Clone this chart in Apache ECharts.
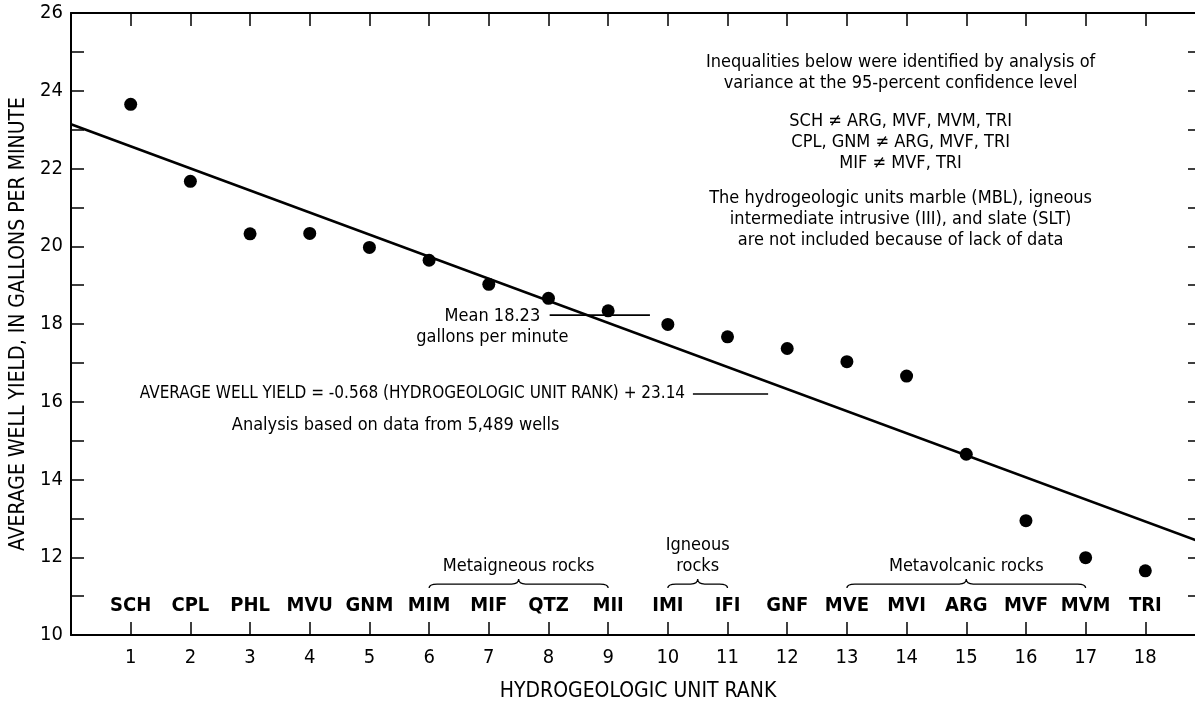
<!DOCTYPE html>
<html>
<head>
<meta charset="utf-8">
<script src="https://cdn.jsdelivr.net/npm/echarts@6/dist/echarts.min.js"></script>
<style>
	html, body { margin: 0; padding: 0; background: #fff; }
	#chart { width: 1195px; height: 702px; }
</style>
</head>
<body>
<div id="chart"></div>
<script>
const FONT = '"Liberation Sans Narrow", "DejaVu Sans Condensed", "Liberation Sans", sans-serif';

// hydrogeologic unit rank and average well yield (gal/min)
const unitRank = [1, 2, 3, 4, 5, 6, 7, 8, 9, 10, 11, 12, 13, 14, 15, 16, 17, 18];
const unitCode = ['SCH', 'CPL', 'PHL', 'MVU', 'GNM', 'MIM', 'MIF', 'QTZ', 'MII',
	'IMI', 'IFI', 'GNF', 'MVE', 'MVI', 'ARG', 'MVF', 'MVM', 'TRI'];
const avgYield = [23.65, 21.67, 20.32, 20.33, 19.97, 19.64, 19.02, 18.66, 18.34,
	17.99, 17.67, 17.37, 17.03, 16.66, 14.65, 12.94, 11.99, 11.65];

// regression line end points: yield = -0.568 rank + 23.14
const fitRank = [0, 19];
const fitYield = [23.14, 12.35];

const meanYield = 18.23;
const meanSpan = [8.02, 9.7];
const eqLeader = [[10.42, 16.2], [11.68, 16.2]];

// rock group braces: [from rank, to rank, at yield]
const groups = [[6, 9, 11.31], [10, 11, 11.31], [13, 17, 11.31]];
const groupName = ['Metaigneous rocks', 'Igneous\nrocks', 'Metavolcanic rocks'];
const groupAt = [[7.5, 11.77], [10.5, 12.03], [15, 11.77]];

// text notes anchored in data units
const notes = [
	{ text: 'Inequalities below were identified by analysis of\nvariance at the 95-percent confidence level', at: [13.9, 24.45], pos: 'inside', align: 'center', size: 18 },
	{ text: 'SCH \u2260 ARG, MVF, MVM, TRI\nCPL, GNM \u2260 ARG, MVF, TRI\nMIF \u2260 MVF, TRI', at: [13.9, 22.67], pos: 'inside', align: 'center', size: 18 },
	{ text: 'The hydrogeologic units marble (MBL), igneous\nintermediate intrusive (III), and slate (SLT)\nare not included because of lack of data', at: [13.9, 20.69], pos: 'inside', align: 'center', size: 18 },
	{ text: 'Mean 18.23\ngallons per minute', at: [7.06, 17.92], pos: 'inside', align: 'center', size: 18 },
	{ text: 'AVERAGE WELL YIELD = -0.568 (HYDROGEOLOGIC UNIT RANK) + 23.14', at: [10.29, 16.2], pos: 'left', align: 'right', size: 17 },
	{ text: 'Analysis based on data from 5,489 wells', at: [5.44, 15.4], pos: 'inside', align: 'center', size: 18 }
];

var chart = echarts.init(document.getElementById('chart'));

const axisLine = { onZero: false, lineStyle: { color: '#000', width: 2 } };
const tickStyle = { color: '#000', width: 1.5 };

function braceItem(params, api) {
	let a = api.coord([api.value(0), api.value(2)]);
	let b = api.coord([api.value(1), api.value(2)]);
	let y = a[1];
	let m = (a[0] + b[0]) / 2;
	let d = 'M' + a[0] + ',' + (y + 4) +
		' Q' + a[0] + ',' + y + ' ' + (a[0] + 8) + ',' + y +
		' L' + (m - 7) + ',' + y +
		' Q' + m + ',' + y + ' ' + m + ',' + (y - 5) +
		' Q' + m + ',' + y + ' ' + (m + 7) + ',' + y +
		' L' + (b[0] - 8) + ',' + y +
		' Q' + b[0] + ',' + y + ' ' + b[0] + ',' + (y + 4);
	return {
		type: 'path',
		shape: { pathData: d },
		style: { fill: 'none', stroke: '#000', lineWidth: 1.3 }
	};
}

var option = {
	animation: false,
	textStyle: { fontFamily: FONT },
	grid: { left: 71, right: -10, top: 13, bottom: 67, containLabel: false, outerBoundsMode: 'none' },
	xAxis: [
		{
			type: 'value', min: 0, max: 19, interval: 1, position: 'bottom',
			axisLine: axisLine,
			axisTick: { inside: true, length: 13, lineStyle: tickStyle },
			splitLine: { show: false },
			axisLabel: {
				formatter: (v) => (v >= 1 && v <= 18) ? String(v) : '',
				color: '#000', fontSize: 20, fontFamily: FONT, margin: 13
			},
			name: 'HYDROGEOLOGIC UNIT RANK',
			nameLocation: 'middle', nameGap: 46,
			nameTextStyle: { color: '#000', fontSize: 21, fontFamily: FONT }
		},
		{
			type: 'value', min: 0, max: 19, interval: 1, position: 'bottom',
			axisLine: { show: false, onZero: false }, axisTick: { show: false },
			splitLine: { show: false },
			axisLabel: {
				inside: true, margin: 19,
				formatter: (v) => unitCode[unitRank.indexOf(v)] || '',
				color: '#000', fontSize: 20, fontWeight: 'bold', fontFamily: FONT
			}
		},
		{
			type: 'value', min: 0, max: 19, interval: 1, position: 'top',
			axisLine: axisLine,
			axisTick: { inside: true, length: 13, lineStyle: tickStyle },
			axisLabel: { show: false }, splitLine: { show: false }
		}
	],
	yAxis: [
		{
			type: 'value', min: 10, max: 26, interval: 1, position: 'left',
			axisLine: axisLine,
			axisTick: { inside: true, length: 13, lineStyle: tickStyle },
			splitLine: { show: false },
			axisLabel: {
				formatter: (v) => v % 2 === 0 ? String(v) : '',
				color: '#000', fontSize: 20, fontFamily: FONT, margin: 8
			},
			name: 'AVERAGE WELL YIELD, IN GALLONS PER MINUTE',
			nameLocation: 'middle', nameGap: 40, nameRotate: 90,
			nameTextStyle: { color: '#000', fontSize: 21, fontFamily: FONT }
		},
		{
			type: 'value', min: 10, max: 26, interval: 1, position: 'right',
			axisLine: axisLine,
			axisTick: { inside: true, length: 17, lineStyle: tickStyle },
			axisLabel: { show: false }, splitLine: { show: false }
		}
	],
	series: [
		{
			name: 'Fit',
			type: 'line',
			data: fitRank.map((x, i) => [x, fitYield[i]]),
			symbol: 'none',
			lineStyle: { color: '#000', width: 2.6 },
			z: 3
		},
		{
			name: 'Mean',
			type: 'line',
			data: meanSpan.map((x) => [x, meanYield]),
			symbol: 'none',
			lineStyle: { color: '#000', width: 1.8 },
			z: 3
		},
		{
			name: 'Leader',
			type: 'line',
			data: eqLeader,
			symbol: 'none',
			lineStyle: { color: '#000', width: 1.3 },
			z: 3
		},
		{
			name: 'Average well yield',
			type: 'scatter',
			data: unitRank.map((x, i) => [x, avgYield[i]]),
			symbol: 'circle',
			symbolSize: 13,
			itemStyle: { color: '#000', opacity: 1 },
			z: 5
		},
		{
			name: 'Braces',
			type: 'custom',
			renderItem: braceItem,
			data: groups,
			silent: true,
			z: 4
		},
		{
			name: 'Group names',
			type: 'scatter',
			data: groupAt.map((p, i) => ({ value: p, name: groupName[i] })),
			symbolSize: 0.1,
			itemStyle: { color: 'transparent', opacity: 1 },
			label: {
				show: true, position: 'inside', formatter: '{b}',
				color: '#000', fontSize: 18, lineHeight: 21, fontFamily: FONT, align: 'center'
			},
			silent: true
		},
		{
			name: 'Notes',
			type: 'scatter',
			data: notes.map((n) => ({
				value: n.at, name: n.text,
				label: { position: n.pos, distance: 0, align: n.align, fontSize: n.size }
			})),
			symbolSize: 0.1,
			itemStyle: { color: 'transparent', opacity: 1 },
			label: {
				show: true, formatter: '{b}',
				color: '#000', fontSize: 18, lineHeight: 21, fontFamily: FONT
			},
			silent: true
		}
	]
};

chart.setOption(option);
</script>
</body>
</html>
